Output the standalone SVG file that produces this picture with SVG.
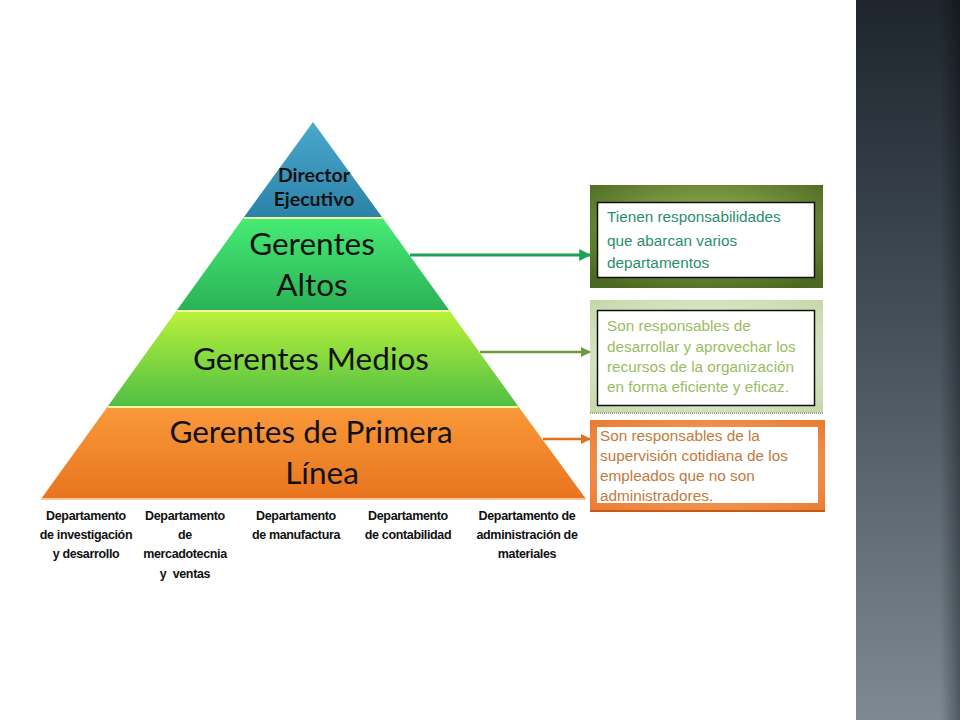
<svg xmlns="http://www.w3.org/2000/svg" width="960" height="720" viewBox="0 0 960 720">
<defs>
<linearGradient id="side" x1="0" y1="0" x2="0" y2="1">
<stop offset="0" stop-color="#1e252c"/><stop offset="0.5" stop-color="#48545e"/><stop offset="1" stop-color="#7d8a94"/>
</linearGradient>
<linearGradient id="sideEdge" x1="0" y1="0" x2="1" y2="0">
<stop offset="0" stop-color="#000" stop-opacity="0"/><stop offset="1" stop-color="#000" stop-opacity="0.35"/>
</linearGradient>
<linearGradient id="gBlue" x1="0" y1="0" x2="0" y2="1">
<stop offset="0" stop-color="#4aa8cc"/><stop offset="1" stop-color="#2c82a8"/>
</linearGradient>
<linearGradient id="gGreen" x1="0" y1="0" x2="0" y2="1">
<stop offset="0" stop-color="#46ec74"/><stop offset="1" stop-color="#2bb257"/>
</linearGradient>
<linearGradient id="gLime" x1="0" y1="0" x2="0" y2="1">
<stop offset="0" stop-color="#bcf23a"/><stop offset="1" stop-color="#4fbf44"/>
</linearGradient>
<linearGradient id="gOrange" x1="0" y1="0" x2="0" y2="1">
<stop offset="0" stop-color="#f99a3a"/><stop offset="1" stop-color="#e8741e"/>
</linearGradient>
<radialGradient id="b1" cx="0.5" cy="0.4" r="0.7">
<stop offset="0" stop-color="#9ab85a"/><stop offset="1" stop-color="#4a6820"/>
</radialGradient>
<radialGradient id="b2" cx="0.5" cy="0.5" r="0.7">
<stop offset="0" stop-color="#f2f7ea"/><stop offset="1" stop-color="#c5d8a8"/>
</radialGradient>
<radialGradient id="b3" cx="0.5" cy="0.5" r="0.7">
<stop offset="0" stop-color="#f9b27a"/><stop offset="1" stop-color="#ea7a30"/>
</radialGradient>
<marker id="ahG" viewBox="0 0 10 10" refX="9" refY="5" markerWidth="4" markerHeight="4" orient="auto" markerUnits="strokeWidth"><path d="M0,0 L10,5 L0,10 z" fill="#1ea155"/></marker>
<marker id="ahL" viewBox="0 0 10 10" refX="9" refY="5" markerWidth="4" markerHeight="4" orient="auto" markerUnits="strokeWidth"><path d="M0,0 L10,5 L0,10 z" fill="#6e9a3e"/></marker>
<marker id="ahO" viewBox="0 0 10 10" refX="9" refY="5" markerWidth="4" markerHeight="4" orient="auto" markerUnits="strokeWidth"><path d="M0,0 L10,5 L0,10 z" fill="#e0711f"/></marker>
</defs>
<style>
.lvl{font-family:Lato,"Open Sans","Liberation Sans",sans-serif;fill:#111;text-anchor:middle}
.dept{font-family:"Liberation Sans",Arial,sans-serif;font-weight:bold;font-size:12.5px;fill:#111;text-anchor:middle;letter-spacing:-0.35px}
.note{font-family:"Liberation Sans",Arial,sans-serif;font-size:15.3px}
.sep{stroke:#f4f7a0;stroke-width:2}
</style>
<rect width="960" height="720" fill="#ffffff"/>
<rect x="856" y="0" width="104" height="720" fill="url(#side)"/>
<rect x="940" y="0" width="20" height="720" fill="url(#sideEdge)"/>

<g id="pyramid">
<g id="level-director">
<polygon points="313,122 382,217 244,217" fill="url(#gBlue)"/>
<text class="lvl" x="314" y="182" font-size="19.5" font-weight="bold">Director</text>
<text class="lvl" x="314" y="206" font-size="19.5" font-weight="bold">Ejecutivo</text>
</g>
<g id="level-altos">
<polygon points="244,217 382,217 449,310 177,310" fill="url(#gGreen)"/>
<line class="sep" x1="244" y1="218" x2="382" y2="218" stroke="#b6f0c0"/>
<text class="lvl" x="312" y="255" font-size="31.5">Gerentes</text>
<text class="lvl" x="312" y="296" font-size="31.5">Altos</text>
</g>
<g id="level-medios">
<polygon points="177,310 449,310 518,406 108,406" fill="url(#gLime)"/>
<line class="sep" x1="177" y1="311" x2="449" y2="311"/>
<text class="lvl" x="311" y="370" font-size="31.5">Gerentes Medios</text>
</g>
<g id="level-primera">
<polygon points="108,406 518,406 586,499 41,499" fill="url(#gOrange)"/>
<line class="sep" x1="108" y1="407" x2="518" y2="407"/>
<line x1="41" y1="499" x2="586" y2="499" stroke="#f6c9a0" stroke-width="2"/>
<text class="lvl" x="311" y="443" font-size="31.5">Gerentes de Primera</text>
<text class="lvl" x="322" y="484" font-size="31.5">Línea</text>
</g>
</g>

<g id="departments">
<text class="dept" x="86" y="520">Departamento</text>
<text class="dept" x="86" y="539">de investigación</text>
<text class="dept" x="86" y="558">y desarrollo</text>
<text class="dept" x="185" y="520">Departamento</text>
<text class="dept" x="185" y="539">de</text>
<text class="dept" x="185" y="558">mercadotecnia</text>
<text class="dept" x="185" y="578" xml:space="preserve">y  ventas</text>
<text class="dept" x="296" y="520">Departamento</text>
<text class="dept" x="296" y="539">de manufactura</text>
<text class="dept" x="408" y="520">Departamento</text>
<text class="dept" x="408" y="539">de contabilidad</text>
<text class="dept" x="527" y="520">Departamento de</text>
<text class="dept" x="527" y="539">administración de</text>
<text class="dept" x="527" y="558">materiales</text>
</g>

<g id="connectors">
<line x1="410" y1="255" x2="590" y2="255" stroke="#1ea155" stroke-width="3" marker-end="url(#ahG)"/>
<line x1="480" y1="352" x2="590" y2="352" stroke="#6e9a3e" stroke-width="2.5" marker-end="url(#ahL)"/>
<line x1="543" y1="439" x2="590" y2="439" stroke="#e0711f" stroke-width="2.5" marker-end="url(#ahO)"/>
</g>

<g id="note-altos">
<rect x="590" y="185" width="233" height="103" fill="url(#b1)"/>
<rect x="597.5" y="202.5" width="217" height="75" fill="#fff" stroke="#111" stroke-width="1.5"/>
<text class="note" fill="#2a8f6c"><tspan x="607" y="222">Tienen responsabilidades</tspan><tspan x="607" y="246">que abarcan varios</tspan><tspan x="607" y="268">departamentos</tspan></text>
</g>
<g id="note-medios">
<rect x="590" y="300" width="233" height="113" fill="url(#b2)"/>
<line x1="590" y1="413" x2="823" y2="413" stroke="#9aa890" stroke-width="2" stroke-dasharray="1,1"/>
<rect x="597.5" y="310.5" width="217" height="95" fill="#fff" stroke="#111" stroke-width="1.5"/>
<text class="note" fill="#9cbb62"><tspan x="607" y="331">Son responsables de</tspan><tspan x="607" y="352">desarrollar y aprovechar los</tspan><tspan x="607" y="372">recursos de la organización</tspan><tspan x="607" y="392">en forma eficiente y eficaz.</tspan></text>
</g>
<g id="note-primera">
<rect x="590" y="420" width="235" height="92" fill="url(#b3)"/>
<line x1="590" y1="511" x2="825" y2="511" stroke="#c55a14" stroke-width="2"/>
<rect x="597" y="427" width="221" height="76" fill="#fff"/>
<text class="note" fill="#c27a3c"><tspan x="600" y="441">Son responsables de la</tspan><tspan x="600" y="461">supervisión cotidiana de los</tspan><tspan x="600" y="481">empleados que no son</tspan><tspan x="600" y="501">administradores.</tspan></text>
</g>
</svg>
